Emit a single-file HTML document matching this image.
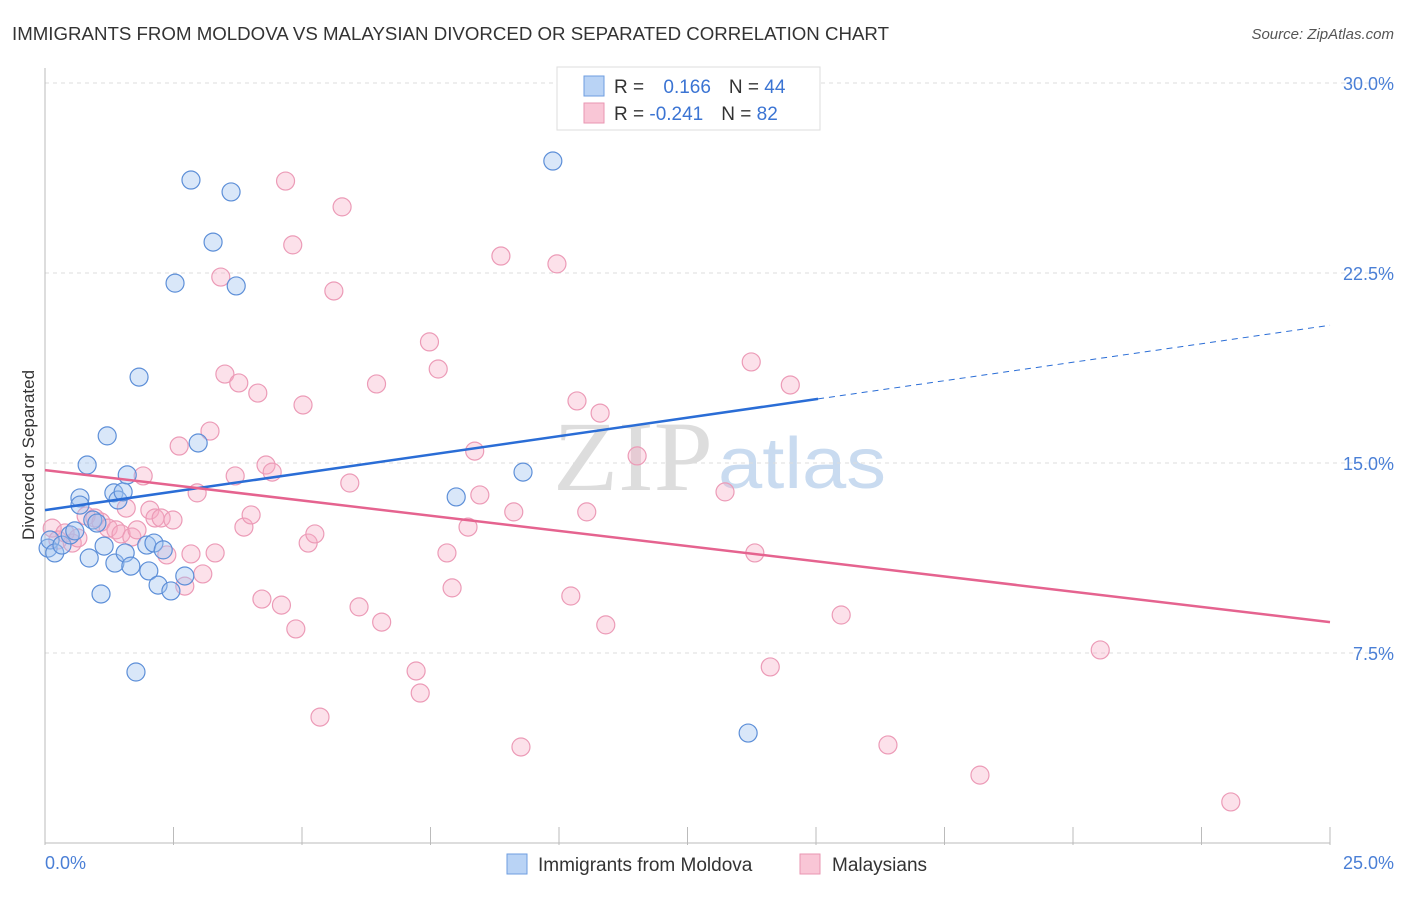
<!DOCTYPE html>
<html><head><meta charset="utf-8"><style>
body{margin:0;background:#fff;font-family:"Liberation Sans",sans-serif;}
</style></head><body>
<svg width="1406" height="892" xmlns="http://www.w3.org/2000/svg" font-family="Liberation Sans, sans-serif">
<text x="12" y="40" font-size="18" fill="#333" textLength="877" lengthAdjust="spacingAndGlyphs">IMMIGRANTS FROM MOLDOVA VS MALAYSIAN DIVORCED OR SEPARATED CORRELATION CHART</text>
<text x="1394" y="39" font-size="15" fill="#555" font-style="italic" text-anchor="end">Source: ZipAtlas.com</text>
<text x="553" y="490" font-size="100" fill="#ddd" font-family="Liberation Serif, serif" textLength="160" lengthAdjust="spacingAndGlyphs">ZIP</text>
<text x="718" y="488" font-size="72" fill="#c9dbf0" textLength="168" lengthAdjust="spacingAndGlyphs">atlas</text>
<g id="grid"></g>
<line x1="45" y1="68" x2="45" y2="843" stroke="#bbb"/>
<line x1="45" y1="843" x2="1330" y2="843" stroke="#bbb"/>
<text x="34" y="455" font-size="17" fill="#333" transform="rotate(-90 34 455)" text-anchor="middle">Divorced or Separated</text>
<text x="45" y="869" font-size="18" fill="#4a7fd6">0.0%</text>
<text x="1394" y="869" font-size="18" fill="#4a7fd6" text-anchor="end">25.0%</text>
<g id="pts"></g>
<g id="lines"></g>
<g>
<rect x="557" y="67" width="263" height="63" fill="#fff" stroke="#ddd"/>
<rect x="584" y="76" width="20" height="20" fill="#b9d3f5" stroke="#6e9ee0"/>
<rect x="584" y="103" width="20" height="20" fill="#f9c6d6" stroke="#e996b2"/>
<text x="614" y="93" font-size="19" fill="#333">R = <tspan fill="#3b74d3" dx="14">0.166</tspan><tspan dx="18" fill="#333">N = </tspan><tspan fill="#3b74d3">44</tspan></text>
<text x="614" y="120" font-size="19" fill="#333">R = <tspan fill="#3b74d3">-0.241</tspan><tspan dx="18" fill="#333">N = </tspan><tspan fill="#3b74d3">82</tspan></text>
</g>
<g>
<rect x="507" y="854" width="20" height="20" fill="#b9d3f5" stroke="#6e9ee0"/>
<text x="538" y="871" font-size="19" fill="#333">Immigrants from Moldova</text>
<rect x="800" y="854" width="20" height="20" fill="#f9c6d6" stroke="#e996b2"/>
<text x="832" y="871" font-size="19" fill="#333">Malaysians</text>
</g>
</svg>
<script>
const yTicks=[7.5,15,22.5,30];
const yTickLabels=["7.5%","15.0%","22.5%","30.0%"];
const xTicks=[0,2.5,5,7.5,10,12.5,15,17.5,20,22.5,25];
const blueX=[0.06,0.10,0.19,0.33,0.49,0.58,0.68,0.68,0.82,0.86,0.93,1.01,1.09,1.15,1.21,1.34,1.36,1.42,1.52,1.56,1.60,1.67,1.77,1.83,1.98,2.02,2.12,2.20,2.30,2.45,2.53,2.72,2.84,2.98,3.27,3.62,3.72,8.00,9.30,9.88,13.68];
const blueY=[11.64,11.96,11.45,11.76,12.16,12.32,13.62,13.34,14.92,11.25,12.75,12.63,9.83,11.72,16.07,13.82,11.05,13.54,13.86,11.45,14.53,10.93,6.75,18.39,11.76,10.74,11.84,10.18,11.57,9.95,22.1,10.54,26.17,15.79,23.72,25.70,21.99,13.66,14.64,26.92,4.34];
const pinkX=[0.14,0.25,0.39,0.53,0.64,0.80,0.97,1.09,1.23,1.38,1.48,1.58,1.69,1.79,1.91,2.04,2.14,2.26,2.37,2.49,2.61,2.72,2.84,2.96,3.07,3.21,3.31,3.42,3.50,3.70,3.77,3.87,4.01,4.14,4.22,4.30,4.42,4.60,4.68,4.82,4.88,5.02,5.12,5.25,5.35,5.62,5.78,5.93,6.11,6.45,6.55,7.22,7.30,7.48,7.65,7.82,7.92,8.23,8.36,8.46,8.87,9.12,9.26,9.96,10.23,10.35,10.54,10.80,10.91,11.52,13.23,13.74,13.81,14.11,14.50,15.49,16.40,18.19,20.53,23.07];
const pinkY=[12.43,11.96,12.24,11.84,12.04,12.91,12.83,12.67,12.43,12.36,12.20,13.22,12.08,12.36,14.49,13.14,12.83,12.83,11.37,12.75,15.67,10.14,11.41,13.82,10.62,16.26,11.45,22.34,18.51,14.49,18.16,12.47,12.95,17.76,9.63,14.92,14.64,9.39,26.13,23.61,8.45,17.29,11.84,12.20,4.97,21.79,25.11,14.21,9.32,18.12,8.72,6.79,5.92,19.78,18.71,11.45,10.07,12.47,15.47,13.74,23.17,13.07,3.79,22.86,9.75,17.45,13.07,16.97,8.61,15.28,13.86,18.99,11.45,6.95,18.08,9.00,3.87,2.68,7.62,1.62];
const blueLine=[13.14,0.2919,15.04];
const pinkLine=[14.72,-0.24];
const NS="http://www.w3.org/2000/svg";
const sx=v=>45+v/25*1285, sy=v=>843-v/7.5*190;
function mk(t,a,p){const e=document.createElementNS(NS,t);for(const k in a)e.setAttribute(k,a[k]);p.appendChild(e);return e;}
const g=document.getElementById('grid');
yTicks.forEach((v,i)=>{
 const l=mk('line',{x1:45,x2:1394,y1:sy(v),y2:sy(v),stroke:'#ddd','stroke-dasharray':'4,4'},g);
 
 
 const t=mk('text',{x:1394,y:sy(v)+7,'font-size':18,fill:'#4a7fd6','text-anchor':'end'},g);
 t.textContent=yTickLabels[i];
 
 
});
xTicks.forEach(v=>{
 const l=mk('line',{x1:sx(v),x2:sx(v),y1:827,y2:845,stroke:'#bbb'},g);
 
 
});
const p=document.getElementById('pts');
pinkX.forEach((x,i)=>{
 const c=mk('circle',{cx:sx(x),cy:sy(pinkY[i]),r:9,fill:'rgba(246,170,195,0.35)',stroke:'#ec9bb7','stroke-width':1.2},p);
 
 
});
blueX.forEach((x,i)=>{
 const c=mk('circle',{cx:sx(x),cy:sy(blueY[i]),r:9,fill:'rgba(160,195,240,0.4)',stroke:'#5d8fd8','stroke-width':1.2},p);
 
 
});
const L=document.getElementById('lines');
const b1=mk('line',{x1:sx(0),y1:sy(blueLine[0]),x2:sx(blueLine[2]),y2:sy(blueLine[0]+blueLine[1]*blueLine[2]),stroke:'#2a6dd6','stroke-width':2.5},L);


const b2=mk('line',{x1:sx(blueLine[2]),y1:sy(blueLine[0]+blueLine[1]*blueLine[2]),x2:sx(25),y2:sy(blueLine[0]+blueLine[1]*25),stroke:'#2a6dd6','stroke-width':1,'stroke-dasharray':'6,5'},L);


const p1=mk('line',{x1:sx(0),y1:sy(pinkLine[0]),x2:sx(25),y2:sy(pinkLine[0]+pinkLine[1]*25),stroke:'#e5638f','stroke-width':2.5},L);


</script>
</body></html>
